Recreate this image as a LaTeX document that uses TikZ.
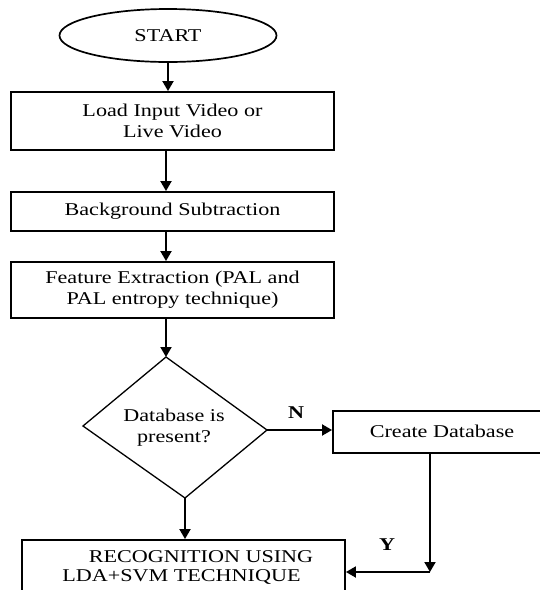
\documentclass[tikz,border=0pt]{standalone}
\usepackage{fontspec}
\setmainfont[FakeStretch=1.23]{Liberation Serif}
\usetikzlibrary{arrows.meta,shapes.geometric}
\begin{document}
\begin{tikzpicture}[x=1pt,y=-1pt,
  every node/.style={font=\fontsize{18}{21}\selectfont, inner sep=0pt},
  procbox/.style={draw, line width=1.9pt, rectangle, align=center},
  arr/.style={line width=1.9pt, -{Triangle[width=11pt,length=10pt]}},
  lbl/.style={font=\fontsize{18}{21}\selectfont\bfseries}]
\useasboundingbox (0,0) rectangle (540,590);
\clip (0,0) rectangle (540,590);

% terminal and process steps
\node[draw, ellipse, line width=1.7pt, minimum width=217pt, minimum height=53pt] (start) at (168,35.5) {START};
\node[procbox, minimum width=323pt, minimum height=58pt] (load) at (172.5,121) {Load Input Video or\\Live Video};
\node[procbox, minimum width=323pt, minimum height=39pt] (bg) at (172.5,211.5) {Background Subtraction};
\node[procbox, minimum width=323pt, minimum height=56pt] (feat) at (172.5,290) {Feature Extraction (PAL and\\PAL entropy technique)};

% decision diamond
\coordinate (dt) at (166,357);
\coordinate (dr) at (267,430);
\coordinate (db) at (185,498);
\coordinate (dl) at (83,426);
\draw[line width=1.3pt, line join=miter] (dt) -- (dr) -- (db) -- (dl) -- cycle;
\node[align=center] (dec) at (174,428) {Database is\\present?};

% side branch and final step
\node[procbox, minimum width=219pt, minimum height=42pt] (cdb) at (442.5,432) {};
\node (cdbtext) at (442,431) {Create Database};
\node[procbox, minimum width=323pt, minimum height=70pt] (rec) at (183.5,575) {};
\node (rec1) at (201,557) {RECOGNITION USING};
\node (rec2) at (181.5,577) {LDA+SVM TECHNIQUE};

% connectors
\coordinate (col) at (166,0);
\draw[arr] (start.south) -- (start.south |- load.north);
\draw[arr] (load.south -| col) -- (col |- bg.north);
\draw[arr] (bg.south -| col) -- (col |- feat.north);
\draw[arr] (feat.south -| col) -- (dt);
\draw[arr] (dr) -- (dr -| cdb.west);
\node[lbl] (nlab) at (296,413) {N};
\coordinate (corner) at (430,572);
\draw[arr] (cdb.south -| corner) -- (corner);
\draw[arr] (corner) -- (corner -| rec.east);
\node[lbl] (ylab) at (387,545) {Y};
\draw[arr] (db) -- (db |- rec.north);
\end{tikzpicture}
\end{document}
